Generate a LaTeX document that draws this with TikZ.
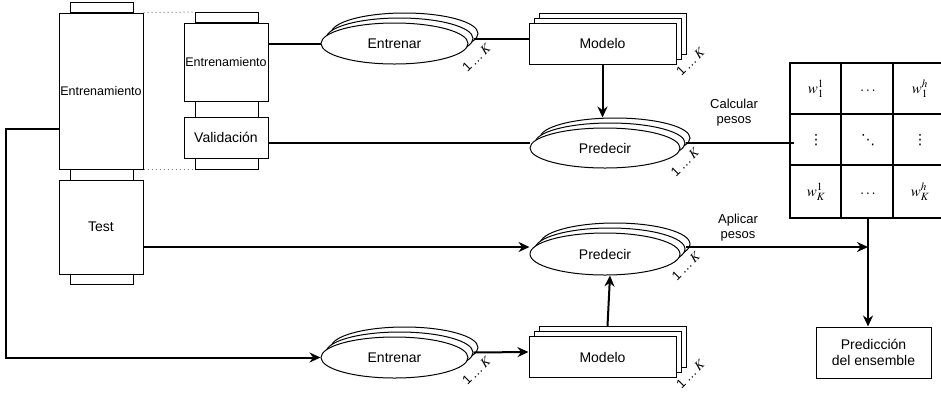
\documentclass[tikz,border=0pt]{standalone}
\usepackage{mathptmx}
\usepackage[no-math]{fontspec}
\setmainfont{Liberation Sans}
\newfontfamily\simbolos{DejaVu Sans}
\usetikzlibrary{shapes.geometric,shadows,arrows.meta}

\begin{document}
\begin{tikzpicture}[x=1pt,y=-1pt,
  caja/.style={draw,line width=1pt,fill=white,inner sep=0pt,font=\fontsize{14}{16}\selectfont},
  pestana/.style={draw,line width=1pt,inner sep=0pt,minimum width=63pt},
  pila/.style={draw,line width=1pt,fill=white,inner sep=0pt,font=\fontsize{14}{16}\selectfont,
    double copy shadow={shadow xshift=5pt,shadow yshift=5pt,fill=white,draw=black,line width=1pt}},
  elipse/.style={pila,ellipse,minimum width=147pt,minimum height=41pt},
  modelo/.style={pila,rectangle,minimum width=147pt,minimum height=41pt},
  veces/.style={rotate=45,inner sep=0pt,font=\fontsize{13}{14}\selectfont},
  celda/.style={inner sep=0pt,font=\fontsize{15}{17}\selectfont},
  linea/.style={line width=2pt},
  flecha/.style={line width=2pt,-{Stealth[length=11pt,width=10pt]}},
  puntos/.style={gray,line width=1pt,dash pattern=on 1pt off 3pt},
  etiqueta/.style={align=center,inner sep=0pt,font=\fontsize{13}{15}\selectfont}]
\useasboundingbox (0,0) rectangle (941,392);

% particiones
\node[pestana,minimum height=10pt] (tabL1) at (101.5,7.8) {};
\node[pestana,minimum height=11pt] (tabL2) at (101.5,174.5) {};
\node[pestana,minimum height=10pt] (tabL3) at (101.5,279) {};
\node[caja,minimum width=84pt,minimum height=156pt,font=\fontsize{12.5}{14}\selectfont] (entL) at (101,91) {Entrenamiento};
\node[caja,minimum width=84pt,minimum height=94pt] (testL) at (101,227) {Test};
\node[pestana,minimum height=10.3pt] (tabR1) at (226.5,17.8) {};
\node[pestana,minimum height=16pt] (tabR2) at (226.5,109) {};
\node[pestana,minimum height=11pt] (tabR3) at (226.5,163.5) {};
\node[caja,minimum width=84pt,minimum height=78pt,font=\fontsize{12.5}{14}\selectfont] (entS) at (226,62) {Entrenamiento};
\node[caja,minimum width=84pt,minimum height=41pt] (valS) at (226,137.5) {Validación};
\draw[puntos] (entL.north east) -- (tabR1.north west);
\draw[puntos] (entL.south east) -- (tabR3.south west);

% modelos
\node[elipse] (entA) at (394.5,43.5) {Entrenar};
\node[modelo] (modA) at (602.5,43.5) {Modelo};
\node[elipse,minimum width=150pt,minimum height=40pt] (predA) at (605,148) {Predecir};
\node[elipse,minimum width=150pt,minimum height=42pt] (predB) at (605,254) {Predecir};
\node[elipse] (entB) at (394.5,357.5) {Entrenar};
\node[modelo] (modB) at (602.5,357) {Modelo};

\node[veces] (kEntA) at ([shift={(82,14)}]entA.center) {1\,\ldots\,$K$};
\node[veces] (kModA) at ([shift={(88,18)}]modA.center) {1\,\ldots\,$K$};
\node[veces] (kPredA) at ([shift={(80,14)}]predA.center) {1\,\ldots\,$K$};
\node[veces] (kPredB) at ([shift={(81,12)}]predB.center) {1\,\ldots\,$K$};
\node[veces] (kEntB) at ([shift={(82,13)}]entB.center) {1\,\ldots\,$K$};
\node[veces] (kModB) at ([shift={(88,17)}]modB.center) {1\,\ldots\,$K$};

% pesos
\node[draw,line width=2pt,inner sep=0pt,minimum width=156pt,minimum height=155pt] (pesos) at (868,140.5) {};
\foreach \i in {1,2} {
  \draw[linea] ([xshift=\i*52pt]pesos.north west) -- ([xshift=\i*52pt]pesos.south west);
  \draw[linea] ([yshift=-\i*51.7pt]pesos.north west) -- ([yshift=-\i*51.7pt]pesos.north east);
}
\node[celda] (w11) at (816,89) {$w_1^1$};
\node[celda] (w12) at (868,91) {$\ldots$};
\node[celda] (w13) at (920,89) {$w_1^h$};
\node[celda,font=\simbolos\fontsize{14}{16}\selectfont] (w21) at (816,140.5) {⋮};
\node[celda,font=\simbolos\fontsize{14}{16}\selectfont] (w22) at (868,140.5) {⋱};
\node[celda,font=\simbolos\fontsize{14}{16}\selectfont] (w23) at (920,140.5) {⋮};
\node[celda] (w31) at (816,192) {$w_K^1$};
\node[celda] (w32) at (868,194) {$\ldots$};
\node[celda] (w33) at (920,192) {$w_K^h$};

\node[caja,minimum width=115pt,minimum height=51pt,align=center] (ens) at (873.5,352.5) {Predicción\\del ensemble};
\node[etiqueta] (calc) at (734,113) {Calcular\\pesos};
\node[etiqueta] (apli) at (738,228) {Aplicar\\pesos};

% conexiones
\draw[linea] (entA.west -| entS.east) -- (entA.west);
\draw[linea] ([xshift=5pt,yshift=5pt]entA.east) -- ([yshift=5pt]modA.west);
\draw[flecha] (modA.south) -- ([yshift=10pt]predA.north -| modA.south);
\draw[linea] ([yshift=5pt]predA.west -| valS.east) -- ([yshift=5pt]predA.west);
\draw[linea] ([xshift=5pt,yshift=5pt]predA.east) -- ([xshift=5pt,yshift=5pt]predA.east -| pesos.west);
\draw[flecha] ([yshift=-38pt]entL.west) -- ++(-53,0) |- (entB.west);
\draw[flecha] ([yshift=-20pt]testL.east) -- ([yshift=-20pt]testL.east -| predB.west);
\draw[flecha] ([xshift=5pt,yshift=7pt]predB.east) -- ([yshift=7pt]predB.east -| pesos.south);
\draw[flecha] (pesos.south) -- (pesos.south |- ens.north);
\draw[flecha] ([xshift=5pt,yshift=5pt]entB.east) -- ([yshift=5pt]modB.west);
\draw[flecha] ([xshift=5pt,yshift=10pt]modB.north) -- ([xshift=5pt]predB.south);

\end{tikzpicture}
\end{document}
